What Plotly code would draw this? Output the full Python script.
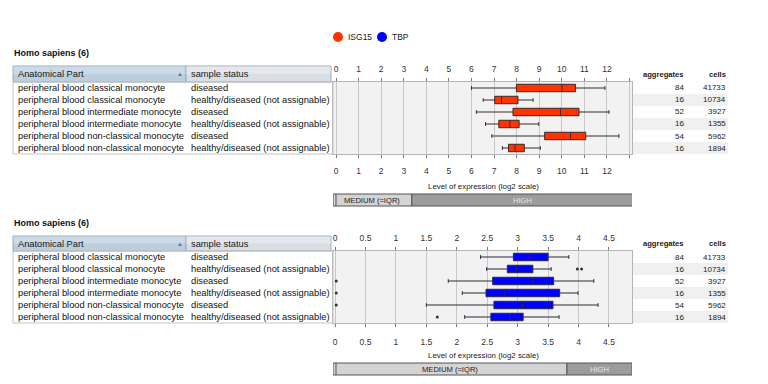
import plotly.graph_objects as go

# ---------------- data ----------------
anatomical = [
    "peripheral blood classical monocyte",
    "peripheral blood classical monocyte",
    "peripheral blood intermediate monocyte",
    "peripheral blood intermediate monocyte",
    "peripheral blood non-classical monocyte",
    "peripheral blood non-classical monocyte",
]
status = [
    "diseased",
    "healthy/diseased (not assignable)",
    "diseased",
    "healthy/diseased (not assignable)",
    "diseased",
    "healthy/diseased (not assignable)",
]
aggregates = [84, 16, 52, 16, 54, 16]
cells = [41733, 10734, 3927, 1355, 5962, 1894]
rows = [0, 1, 2, 3, 4, 5]

isg15_low = [6.00, 6.52, 6.22, 6.62, 6.90, 7.37]
isg15_q1 = [7.99, 7.03, 7.84, 7.21, 9.24, 7.64]
isg15_med = [10.01, 7.33, 9.94, 7.70, 10.39, 7.93]
isg15_q3 = [10.61, 8.06, 10.76, 8.11, 11.06, 8.34]
isg15_high = [11.91, 8.73, 12.09, 8.98, 12.53, 9.05]

tbp_low = [2.39, 2.49, 1.86, 2.09, 1.50, 2.13]
tbp_q1 = [2.93, 2.83, 2.59, 2.48, 2.61, 2.56]
tbp_med = [3.20, 2.98, 3.25, 2.79, 3.08, 2.87]
tbp_q3 = [3.50, 3.25, 3.59, 3.69, 3.58, 3.09]
tbp_high = [3.84, 3.55, 4.25, 3.99, 4.32, 3.68]
tbp_out_row = [1, 1, 2, 3, 4, 5]
tbp_out_val = [3.98, 4.05, 0.02, 0.02, 0.02, 1.68]

isg15_ticks = list(range(0, 14))
isg15_ticktext = [str(v) for v in range(0, 13)] + [""]
tbp_ticks = [0, 0.5, 1, 1.5, 2, 2.5, 3, 3.5, 4, 4.5]
tbp_ticktext = ["0", "0.5", "1", "1.5", "2", "2.5", "3", "3.5", "4", "4.5"]

isg15_medium_upper = 3.36
tbp_medium_upper = 3.81

genes = ["ISG15", "TBP"]
gene_colors = ["#ff3300", "#0000ff"]

# ---------------- helpers ----------------
W, H = 768, 384
def X(px):
    return px / W
def Y(py):
    return 1 - py / H

FONT = "Liberation Sans, Arial, sans-serif"

fig = go.Figure()

fig.add_trace(go.Box(
    y=rows, q1=isg15_q1, median=isg15_med, q3=isg15_q3,
    lowerfence=isg15_low, upperfence=isg15_high,
    orientation="h", fillcolor=gene_colors[0],
    line=dict(color="#3a2a2a", width=1), width=0.62, whiskerwidth=0.5,
    xaxis="x", yaxis="y", showlegend=False, hoverinfo="skip", boxpoints=False,
))
fig.add_trace(go.Box(
    y=rows, q1=tbp_q1, median=tbp_med, q3=tbp_q3,
    lowerfence=tbp_low, upperfence=tbp_high,
    orientation="h", fillcolor=gene_colors[1],
    line=dict(color="#2a2a3a", width=1), width=0.62, whiskerwidth=0.5,
    xaxis="x2", yaxis="y2", showlegend=False, hoverinfo="skip", boxpoints=False,
))
fig.add_trace(go.Scatter(
    x=tbp_out_val, y=tbp_out_row, mode="markers",
    marker=dict(symbol="circle", size=3, color="#333333"),
    xaxis="x2", yaxis="y2", showlegend=False, hoverinfo="skip",
))

top_plot = (82, 154)
bot_plot = (251, 323)
xdom = [X(333), X(632)]

axis_common = dict(
    showgrid=True, gridcolor="#c8c8c8", gridwidth=1, zeroline=False,
    ticks="outside", ticklen=3, tickcolor="#777777",
    showline=True, linecolor="#b4b4b4", linewidth=1,
    tickfont=dict(family=FONT, size=8.5, color="#333333"),
    fixedrange=True,
)

fig.update_layout(
    width=W, height=H, autosize=False,
    margin=dict(l=0, r=0, t=0, b=0),
    paper_bgcolor="white", plot_bgcolor="#f2f2f2",
    xaxis=dict(domain=xdom, range=[-0.133, 13.11], tickvals=isg15_ticks,
               ticktext=isg15_ticktext, anchor="y", side="bottom",
               ticklabelstandoff=6, **axis_common),
    xaxis3=dict(domain=xdom, range=[-0.133, 13.11], tickvals=isg15_ticks,
                ticktext=isg15_ticktext, anchor="y", side="top",
                overlaying="x", matches="x", ticklabelstandoff=3,
                **{**axis_common, "showgrid": False}),
    yaxis=dict(domain=[Y(top_plot[1]), Y(top_plot[0])], range=[5.5, -0.5],
               showticklabels=False, showgrid=False, zeroline=False,
               showline=True, mirror=True, linecolor="#b4b4b4", anchor="x",
               fixedrange=True),
    xaxis2=dict(domain=xdom, range=[-0.033, 4.878], tickvals=tbp_ticks,
                ticktext=tbp_ticktext, anchor="y2", side="bottom",
                ticklabelstandoff=8, **axis_common),
    xaxis4=dict(domain=xdom, range=[-0.033, 4.878], tickvals=tbp_ticks,
                ticktext=tbp_ticktext, anchor="y2", side="top",
                overlaying="x2", matches="x2", ticklabelstandoff=3,
                **{**axis_common, "showgrid": False}),
    yaxis2=dict(domain=[Y(bot_plot[1]), Y(bot_plot[0])], range=[5.5, -0.5],
                showticklabels=False, showgrid=False, zeroline=False,
                showline=True, mirror=True, linecolor="#b4b4b4", anchor="x2",
                fixedrange=True),
)
# dummy traces to realise overlay axes
fig.add_trace(go.Scatter(x=[None], y=[None], xaxis="x3", yaxis="y", showlegend=False))
fig.add_trace(go.Scatter(x=[None], y=[None], xaxis="x4", yaxis="y2", showlegend=False))

shapes = []
ann = []

# legend
for i, (g, c) in enumerate(zip(genes, gene_colors)):
    cx = 338 + 44 * i
    shapes.append(dict(type="circle", xref="paper", yref="paper",
                       x0=X(cx - 5), x1=X(cx + 5), y0=Y(42), y1=Y(32),
                       fillcolor=c, line=dict(width=0)))
    ann.append(dict(text=g, xref="paper", yref="paper", x=X(cx + 8), y=Y(37),
                    xanchor="left", yanchor="middle", showarrow=False,
                    font=dict(family=FONT, size=8.5, color="#222222")))

def table_block(top, plot, yref, xref, medium_upper, xmin, xmax):
    # title
    ann.append(dict(text="<b>Homo sapiens (6)</b>", xref="paper", yref="paper",
                    x=X(12), y=Y(top), xanchor="left", yanchor="middle",
                    showarrow=False, font=dict(family=FONT, size=9, color="#111111")))
    h0, h1 = top + 13, plot[0]
    # header cells
    shapes.append(dict(type="rect", xref="paper", yref="paper",
                       x0=X(13), x1=X(186), y0=Y(h1), y1=Y(h0),
                       fillcolor="#bccddd", line=dict(color="#9aa8b8", width=1)))
    shapes.append(dict(type="rect", xref="paper", yref="paper",
                       x0=X(13.5), x1=X(185.5), y0=Y((h0 + h1) / 2), y1=Y(h0 + 0.5),
                       fillcolor="#ccd9e6", line=dict(width=0)))
    shapes.append(dict(type="rect", xref="paper", yref="paper",
                       x0=X(186), x1=X(331), y0=Y(h1), y1=Y(h0),
                       fillcolor="#d9dee4", line=dict(color="#9aa8b8", width=1)))
    shapes.append(dict(type="rect", xref="paper", yref="paper",
                       x0=X(186.5), x1=X(330.5), y0=Y((h0 + h1) / 2), y1=Y(h0 + 0.5),
                       fillcolor="#e4e8ec", line=dict(width=0)))
    hy = Y((h0 + h1) / 2)
    ann.append(dict(text="Anatomical Part", xref="paper", yref="paper", x=X(16), y=hy,
                    xanchor="left", yanchor="middle", showarrow=False,
                    font=dict(family=FONT, size=9.3, color="#1a1a1a")))
    ann.append(dict(text="▲", xref="paper", yref="paper", x=X(180), y=hy,
                    xanchor="center", yanchor="middle", showarrow=False,
                    font=dict(family=FONT, size=6, color="#5a7aa0")))
    ann.append(dict(text="sample status", xref="paper", yref="paper", x=X(189), y=hy,
                    xanchor="left", yanchor="middle", showarrow=False,
                    font=dict(family=FONT, size=9.3, color="#1a1a1a")))
    # body border
    shapes.append(dict(type="rect", xref="paper", yref="paper",
                       x0=X(13), x1=X(333), y0=Y(plot[1]), y1=Y(plot[0]),
                       fillcolor="rgba(0,0,0,0)", line=dict(color="#c4c4c4", width=1)))
    # right table header
    ann.append(dict(text="<b>aggregates</b>", xref="paper", yref="paper", x=X(686),
                    y=Y(plot[0] - 8), xanchor="right", yanchor="middle", showarrow=False,
                    font=dict(family=FONT, size=7.6, color="#222222")))
    ann.append(dict(text="<b>cells</b>", xref="paper", yref="paper", x=X(728),
                    y=Y(plot[0] - 8), xanchor="right", yanchor="middle", showarrow=False,
                    font=dict(family=FONT, size=7.6, color="#222222")))
    for r in rows:
        if r % 2 == 1:
            shapes.append(dict(type="rect", xref="paper", yref=yref,
                               x0=X(633), x1=X(728), y0=r - 0.5, y1=r + 0.5,
                               fillcolor="#f0f0f0", line=dict(width=0), layer="below"))
        ann.append(dict(text=anatomical[r], xref="paper", yref=yref, x=X(16), y=r,
                        xanchor="left", yanchor="middle", showarrow=False,
                        font=dict(family=FONT, size=9.3, color="#111111")))
        ann.append(dict(text=status[r], xref="paper", yref=yref, x=X(189), y=r,
                        xanchor="left", yanchor="middle", showarrow=False,
                        font=dict(family=FONT, size=9.3, color="#111111")))
        ann.append(dict(text=str(aggregates[r]), xref="paper", yref=yref, x=X(686), y=r,
                        xanchor="right", yanchor="middle", showarrow=False,
                        font=dict(family=FONT, size=8, color="#222222")))
        ann.append(dict(text=str(cells[r]), xref="paper", yref=yref, x=X(728), y=r,
                        xanchor="right", yanchor="middle", showarrow=False,
                        font=dict(family=FONT, size=8, color="#222222")))
    # axis title
    ann.append(dict(text="Level of expression (log2 scale)", xref="paper", yref="paper",
                    x=X(483), y=Y(plot[1] + 32), xanchor="center", yanchor="middle",
                    showarrow=False, font=dict(family=FONT, size=7.9, color="#222222")))
    # medium / high bar
    b0, b1 = plot[1] + 40, plot[1] + 52
    shapes.append(dict(type="rect", xref=xref, yref="paper", x0=xmin, x1=medium_upper,
                       y0=Y(b1), y1=Y(b0), fillcolor="#d4d4d4",
                       line=dict(color="#555555", width=1)))
    shapes.append(dict(type="rect", xref=xref, yref="paper", x0=medium_upper, x1=xmax,
                       y0=Y(b1), y1=Y(b0), fillcolor="#9c9c9c",
                       line=dict(color="#555555", width=1)))
    shapes.append(dict(type="line", xref="paper", yref="paper", x0=X(336), x1=X(336),
                       y0=Y(b1), y1=Y(b0), line=dict(color="#555555", width=1)))
    ann.append(dict(text="MEDIUM (=IQR)", xref=xref, yref="paper",
                    x=(xmin + medium_upper) / 2, y=Y((b0 + b1) / 2),
                    xanchor="center", yanchor="middle", showarrow=False,
                    font=dict(family=FONT, size=7.6, color="#222222")))
    ann.append(dict(text="HIGH", xref=xref, yref="paper",
                    x=(medium_upper + xmax) / 2, y=Y((b0 + b1) / 2),
                    xanchor="center", yanchor="middle", showarrow=False,
                    font=dict(family=FONT, size=7.6, color="#e6e6e6")))

table_block(53, top_plot, "y", "x", isg15_medium_upper, -0.133, 13.15)
table_block(223, bot_plot, "y2", "x2", tbp_medium_upper, -0.033, 4.88)

fig.update_layout(shapes=shapes, annotations=ann)
fig.write_html(
    "out.html",
    config={"displayModeBar": False, "staticPlot": True},
    post_script="document.body.style.margin='0';document.body.style.overflow='hidden';",
)
